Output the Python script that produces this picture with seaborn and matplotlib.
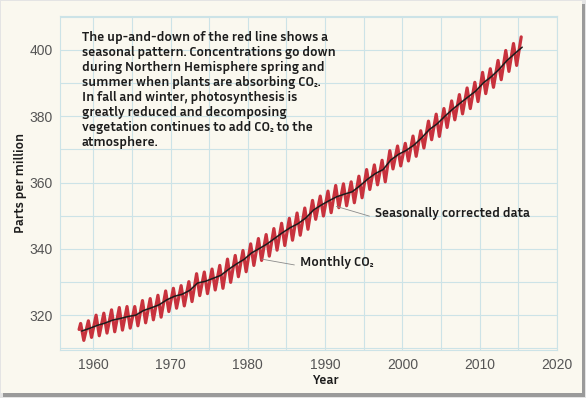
import numpy as np
import pandas as pd
import matplotlib
matplotlib.use('Agg')
import matplotlib.pyplot as plt
import seaborn as sns
from matplotlib import font_manager as fm
from matplotlib.ft2font import FT2Font
from matplotlib.textpath import TextPath
from matplotlib.patches import Rectangle
from matplotlib.ticker import MultipleLocator

# Mauna Loa CO2 (ppm)
years = np.arange(1958, 2016)
annual_ppm = [315.2, 316.0, 316.9, 317.6, 318.5, 319.0, 319.6, 320.0, 321.4, 322.2,
              323.1, 324.6, 325.7, 326.3, 327.5, 329.7, 330.2, 331.1, 332.0, 333.8,
              335.4, 336.8, 338.8, 340.1, 341.5, 343.2, 344.9, 346.4, 347.6, 349.3,
              351.7, 353.2, 354.5, 355.7, 356.5, 357.2, 359.0, 361.0, 362.7, 363.9,
              366.8, 368.5, 369.7, 371.3, 373.5, 376.0, 377.7, 380.0, 382.1, 384.0,
              385.8, 387.6, 390.1, 391.9, 394.1, 396.7, 398.8, 400.8]
may_peak = [317.5, 318.3, 320.0, 320.6, 321.6, 322.3, 322.6, 322.6, 324.4, 325.0,
            326.0, 327.3, 328.1, 328.9, 330.1, 332.5, 333.0, 333.9, 335.0, 336.9,
            338.0, 339.5, 341.5, 343.1, 344.3, 346.1, 347.7, 349.2, 350.8, 352.3,
            354.6, 355.9, 357.4, 359.1, 359.6, 360.2, 361.9, 363.9, 365.3, 366.7,
            369.6, 371.0, 371.8, 374.0, 375.6, 378.5, 380.6, 382.3, 384.6, 386.5,
            388.5, 390.2, 393.2, 394.3, 396.8, 399.8, 401.9, 403.9]
autumn_low = [312.4, 313.3, 313.8, 314.6, 315.0, 315.5, 316.1, 316.8, 317.7, 318.6,
              319.4, 321.1, 322.1, 322.8, 324.1, 325.9, 326.5, 327.6, 328.1, 329.9,
              331.6, 333.1, 335.0, 336.5, 337.8, 339.6, 341.0, 342.6, 344.1, 345.9,
              348.9, 349.9, 350.9, 352.4, 353.0, 353.9, 355.4, 357.9, 359.3, 360.2,
              364.1, 365.0, 366.5, 367.9, 370.4, 372.9, 373.9, 376.6, 378.9, 380.7,
              382.3, 384.4, 386.8, 388.7, 391.0, 393.5, 395.3]
first_month = (1958.17, 315.7)

note_lines = ["The up-and-down of the red line shows a",
              "seasonal pattern. Concentrations go down",
              "during Northern Hemisphere spring and",
              "summer when plants are absorbing CO\u2082.",
              "In fall and winter, photosynthesis is",
              "greatly reduced and decomposing",
              "vegetation continues to add CO\u2082 to the",
              "atmosphere."]

cream = '#faf8ef'
grid_c = '#cce3e7'
red = '#c8323d'
ink = '#1c1c1c'


def narrow_bold(sample, target_px):
    # the original uses a condensed bold sans; take the bold sans whose width fits best
    best = None
    for f in fm.fontManager.ttflist:
        name = f.name.lower()
        if f.style != 'normal':
            continue
        if not any(k in name for k in ('sans', 'roboto', 'lato', 'inter')):
            continue
        if any(k in name for k in ('serif', 'slab', 'mono', 'cjk', 'math', 'display', 'mono')):
            continue
        w = f.weight if isinstance(f.weight, int) else fm.weight_dict.get(f.weight, 400)
        if w != 700:
            continue
        try:
            if 0x2082 not in FT2Font(f.fname).get_charmap():
                continue
            prop = fm.FontProperties(fname=f.fname, size=10)
            width = TextPath((0, 0), sample, prop=prop).get_extents().width * 100 / 72
        except Exception:
            continue
        if width < 0.8 * target_px:
            continue
        score = abs(width - target_px)
        if best is None or score < best[2]:
            best = (f.fname, width, score)
    if best is None:
        return fm.FontProperties(family='DejaVu Sans', weight='bold'), 8.6
    return fm.FontProperties(fname=best[0]), min(10.4, 10 * target_px / best[1])


bold_fp, bold_size = narrow_bold(note_lines[0], 246)

monthly = pd.DataFrame({
    't': np.concatenate([[first_month[0]], years + 0.37, years[:-1] + 0.78]),
    'ppm': np.concatenate([[first_month[1]], may_peak, autumn_low]),
}).sort_values('t')
trend = pd.DataFrame({'t': years + 0.5, 'ppm': annual_ppm})

sns.set_style('white', {'axes.facecolor': cream})
plt.rcParams['font.family'] = ['Liberation Sans', 'DejaVu Sans']

fig = plt.figure(figsize=(5.86, 3.98), dpi=100)
fig.patch.set_facecolor('#e4e4e4')
fig.add_artist(Rectangle((3 / 586, 1 / 398), 582 / 586, 393 / 398, transform=fig.transFigure,
                         facecolor='#9a9a9a', edgecolor='none', zorder=-3))
fig.add_artist(Rectangle((1 / 586, 5 / 398), 581 / 586, 392 / 398, transform=fig.transFigure,
                         facecolor=cream, edgecolor='none', zorder=-2))

ax = fig.add_axes([60 / 586, 48 / 398, 497 / 586, 334 / 398])
sns.lineplot(data=monthly, x='t', y='ppm', color=red, lw=2.3, estimator=None, sort=False, ax=ax)
sns.lineplot(data=trend, x='t', y='ppm', color=ink, lw=1.1, estimator=None, ax=ax)

ax.set_xlim(1955.7, 2020)
ax.set_ylim(309.5, 410.2)
ax.xaxis.set_major_locator(MultipleLocator(10))
ax.xaxis.set_minor_locator(MultipleLocator(5))
ax.yaxis.set_major_locator(MultipleLocator(20))
ax.yaxis.set_minor_locator(MultipleLocator(10))
ax.grid(True, which='both', color=grid_c, lw=0.8)
ax.set_axisbelow(True)
for s in ax.spines.values():
    s.set_color(grid_c)
    s.set_linewidth(0.8)
ax.tick_params(which='both', length=0, labelsize=10, labelcolor='#555555')
ax.tick_params(axis='x', pad=6)
ax.tick_params(axis='y', pad=5)


def styled(txt):
    txt.set_fontproperties(bold_fp)
    txt.set_fontsize(bold_size)
    txt.set_color(ink)
    return txt


ax.set_xlabel('Year')
styled(ax.xaxis.label)
ax.xaxis.set_label_coords((325 - 60) / 497, -0.09)
ax.xaxis.label.set_va('center')
ax.set_ylabel('Parts per million')
styled(ax.yaxis.label)
ax.yaxis.set_label_coords(-0.08, 0.5)
ax.yaxis.label.set_va('center')

# note block, one text per line so the line pitch matches the original
for i, line in enumerate(note_lines):
    styled(ax.text(22 / 497, 1 - (21 + 15.1 * i) / 334, line, transform=ax.transAxes,
                   ha='left', va='center'))

arrow = dict(arrowstyle='-', color='#8a8a8a', lw=0.6, shrinkA=2, shrinkB=0)
styled(ax.annotate('Seasonally corrected data', xy=(1991.45, 352.8), xytext=(1996.5, 350.7),
                   ha='left', va='center', arrowprops=dict(arrow, relpos=(0, 0.15))))
styled(ax.annotate('Monthly CO\u2082', xy=(1981.8, 336.9), xytext=(1986.8, 336.0),
                   ha='left', va='center', arrowprops=dict(arrow, relpos=(0, 0.2))))

fig.savefig('out.png', dpi=100, facecolor=fig.get_facecolor())
